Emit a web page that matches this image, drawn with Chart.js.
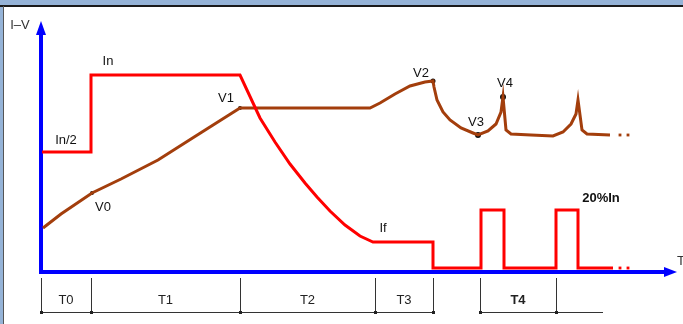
<!DOCTYPE html>
<html>
<head>
<meta charset="utf-8">
<script src="https://cdn.jsdelivr.net/npm/chart.js@4"></script>
<style>
  html, body { margin: 0; padding: 0; background: #fff; }
  #wrap { width: 683px; height: 324px; position: relative; }
</style>
</head>
<body>
<div id="wrap"><canvas id="chart" width="683" height="324"></canvas></div>
<script>
/* Diagram I-V vs T
   t = time (0 at the vertical axis), v = level (0 on the time axis) */

// current (red) : steps In/2 -> In, decay to If, then 20%In pulses
const currentT = [1, 50, 50, 199, 219, 234, 249, 264, 276, 289, 304, 319, 332, 392, 392, 440, 440, 463, 463, 515, 515, 537, 537, 572];
const currentV = [120, 120, 197, 197, 154, 130, 108, 89, 75, 61, 47, 36, 30, 30, 4, 4, 62, 62, 4, 4, 62, 62, 4, 4];

// voltage (brown)
const voltageT = [2, 20, 51, 80, 117, 150, 180, 199, 329, 339, 354, 369, 384, 392, 393, 396, 402, 409, 420, 432, 437, 447, 455, 460, 462, 465, 470, 490, 512, 522, 530, 535, 537, 541, 546, 569];
const voltageV = [44, 58, 79, 93, 112, 133, 152, 164, 164, 169, 178, 186, 190, 191, 185, 172, 160, 152, 144, 139, 137, 141, 148, 160, 175, 142, 138, 137, 136, 140, 148, 158, 172, 142, 138, 137];

// "..." continuation
const tailT = [579, 587];
const tailCurrentV = [4, 4];
const tailVoltageV = [137, 137];

// marked voltage points V0..V4
const markNames = ["V0", "V1", "V2", "V3", "V4"];
const markT = [51, 199, 392, 437, 462];
const markV = [79, 164, 191, 137, 175];
const markR = [2, 2, 2.5, 3, 3];

// text labels on the diagram
const labelText = ["In", "In/2", "V0", "V1", "V2", "V3", "V4", "If", "20%In"];
const labelT = [67, 25, 62, 185, 380, 435, 464, 342, 560];
const labelV = [211, 132, 65, 174, 199, 150, 189, 44, 74];

// time segments under the axis
const segEdges = [0, 50, 199, 334, 392, 439, 515];
const segNames = ["T0", "T1", "T2", "T3", "", "T4"];
const segLineEnd = 562;

const RED = "#ff0000";
const BROWN = "#a33e0c";
const BLUE = "#0000ff";
const INK = "#222";
const FONT = '"Liberation Sans", Arial, sans-serif';

function pts(ts, vs) {
  return ts.map((t, i) => ({ x: t, y: vs[i] }));
}

// frame, axes with arrows, and the T brackets
const diagramPlugin = {
  id: "diagram",
  beforeDraw(chart) {
    const c = chart.ctx;
    c.save();
    c.fillStyle = "#95b3d7";
    c.fillRect(0, 0, 683, 6);
    c.fillRect(0, 0, 3, 324);
    c.fillStyle = "#1a1a1a";
    c.fillRect(0, 5, 683, 2);
    c.fillStyle = "#555";
    c.fillRect(3, 6, 1, 318);
    c.restore();
  },
  beforeDatasetsDraw(chart) {
    const c = chart.ctx;
    const xs = chart.scales.x, ys = chart.scales.y;
    const x0 = xs.getPixelForValue(0), y0 = ys.getPixelForValue(0);
    const yTop = ys.getPixelForValue(251);
    const xEnd = xs.getPixelForValue(636);
    c.save();
    c.strokeStyle = BLUE;
    c.fillStyle = BLUE;
    c.lineWidth = 4;
    c.beginPath();
    c.moveTo(x0, y0 + 2);
    c.lineTo(x0, yTop + 12);
    c.moveTo(x0 - 2, y0);
    c.lineTo(xEnd - 12, y0);
    c.stroke();
    // arrow heads
    c.beginPath();
    c.moveTo(x0, yTop);
    c.lineTo(x0 - 5, yTop + 14);
    c.lineTo(x0 + 5, yTop + 14);
    c.closePath();
    c.fill();
    c.beginPath();
    c.moveTo(xEnd, y0);
    c.lineTo(xEnd - 13, y0 - 5);
    c.lineTo(xEnd - 13, y0 + 5);
    c.closePath();
    c.fill();

    // axis names
    c.fillStyle = "#333";
    c.font = "13px " + FONT;
    c.textAlign = "center";
    c.textBaseline = "middle";
    c.fillText("I\u2013V", xs.getPixelForValue(-21), ys.getPixelForValue(247));
    c.fillText("T", xs.getPixelForValue(640), ys.getPixelForValue(11));

    // T brackets
    const yA = y0 + 6, yB = y0 + 40;
    c.strokeStyle = "#333";
    c.fillStyle = INK;
    c.lineWidth = 1;
    c.beginPath();
    segEdges.forEach((t) => {
      const x = Math.round(xs.getPixelForValue(t)) + 0.5;
      c.moveTo(x, yA);
      c.lineTo(x, yB + 1);
    });
    c.moveTo(xs.getPixelForValue(segEdges[0]), yB + 0.5);
    c.lineTo(xs.getPixelForValue(segEdges[4]), yB + 0.5);
    c.moveTo(xs.getPixelForValue(segEdges[5]), yB + 0.5);
    c.lineTo(xs.getPixelForValue(segLineEnd), yB + 0.5);
    c.stroke();
    segEdges.forEach((t) => {
      const x = Math.round(xs.getPixelForValue(t));
      c.fillRect(x - 1, yB - 1, 3, 3);
    });
    c.fillStyle = "#222";
    segNames.forEach((n, i) => {
      if (!n) return;
      const mid = (segEdges[i] + segEdges[i + 1]) / 2;
      c.font = (n === "T4" ? "bold " : "") + "13px " + FONT;
      c.fillText(n, xs.getPixelForValue(mid), yB - 12);
    });
    c.restore();
  },
  afterDatasetsDraw(chart) {
    const c = chart.ctx;
    const xs = chart.scales.x, ys = chart.scales.y;
    c.save();
    c.fillStyle = "#111";
    c.textAlign = "center";
    c.textBaseline = "middle";
    labelText.forEach((txt, i) => {
      c.font = (txt === "20%In" ? "bold " : "") + "13px " + FONT;
      c.fillText(txt, xs.getPixelForValue(labelT[i]), ys.getPixelForValue(labelV[i]));
    });
    c.restore();
  },
};

new Chart(document.getElementById("chart").getContext("2d"), {
  type: "line",
  data: {
    datasets: [
      {
        label: "I",
        data: pts(currentT, currentV),
        borderColor: RED,
        borderWidth: 3,
        pointRadius: 0,
        tension: 0,
        borderJoinStyle: "miter",
      },
      {
        label: "V",
        data: pts(voltageT, voltageV),
        borderColor: BROWN,
        borderWidth: 3,
        pointRadius: 0,
        tension: 0,
      },
      {
        label: "I...",
        data: pts(tailT, tailCurrentV),
        showLine: false,
        pointStyle: "rect",
        pointRadius: 2,
        backgroundColor: RED,
        borderWidth: 0,
      },
      {
        label: "V...",
        data: pts(tailT, tailVoltageV),
        showLine: false,
        pointStyle: "rect",
        pointRadius: 2,
        backgroundColor: BROWN,
        borderWidth: 0,
      },
      {
        label: "marks",
        data: pts(markT, markV),
        showLine: false,
        pointRadius: markR,
        backgroundColor: "#111",
        borderWidth: 0,
      },
    ],
  },
  options: {
    responsive: false,
    animation: false,
    layout: { padding: 0, autoPadding: false },
    plugins: { legend: { display: false }, tooltip: { enabled: false } },
    scales: {
      x: { type: "linear", display: false, min: -41, max: 642 },
      y: { type: "linear", display: false, min: -52, max: 272 },
    },
  },
  plugins: [diagramPlugin],
});
</script>
</body>
</html>
